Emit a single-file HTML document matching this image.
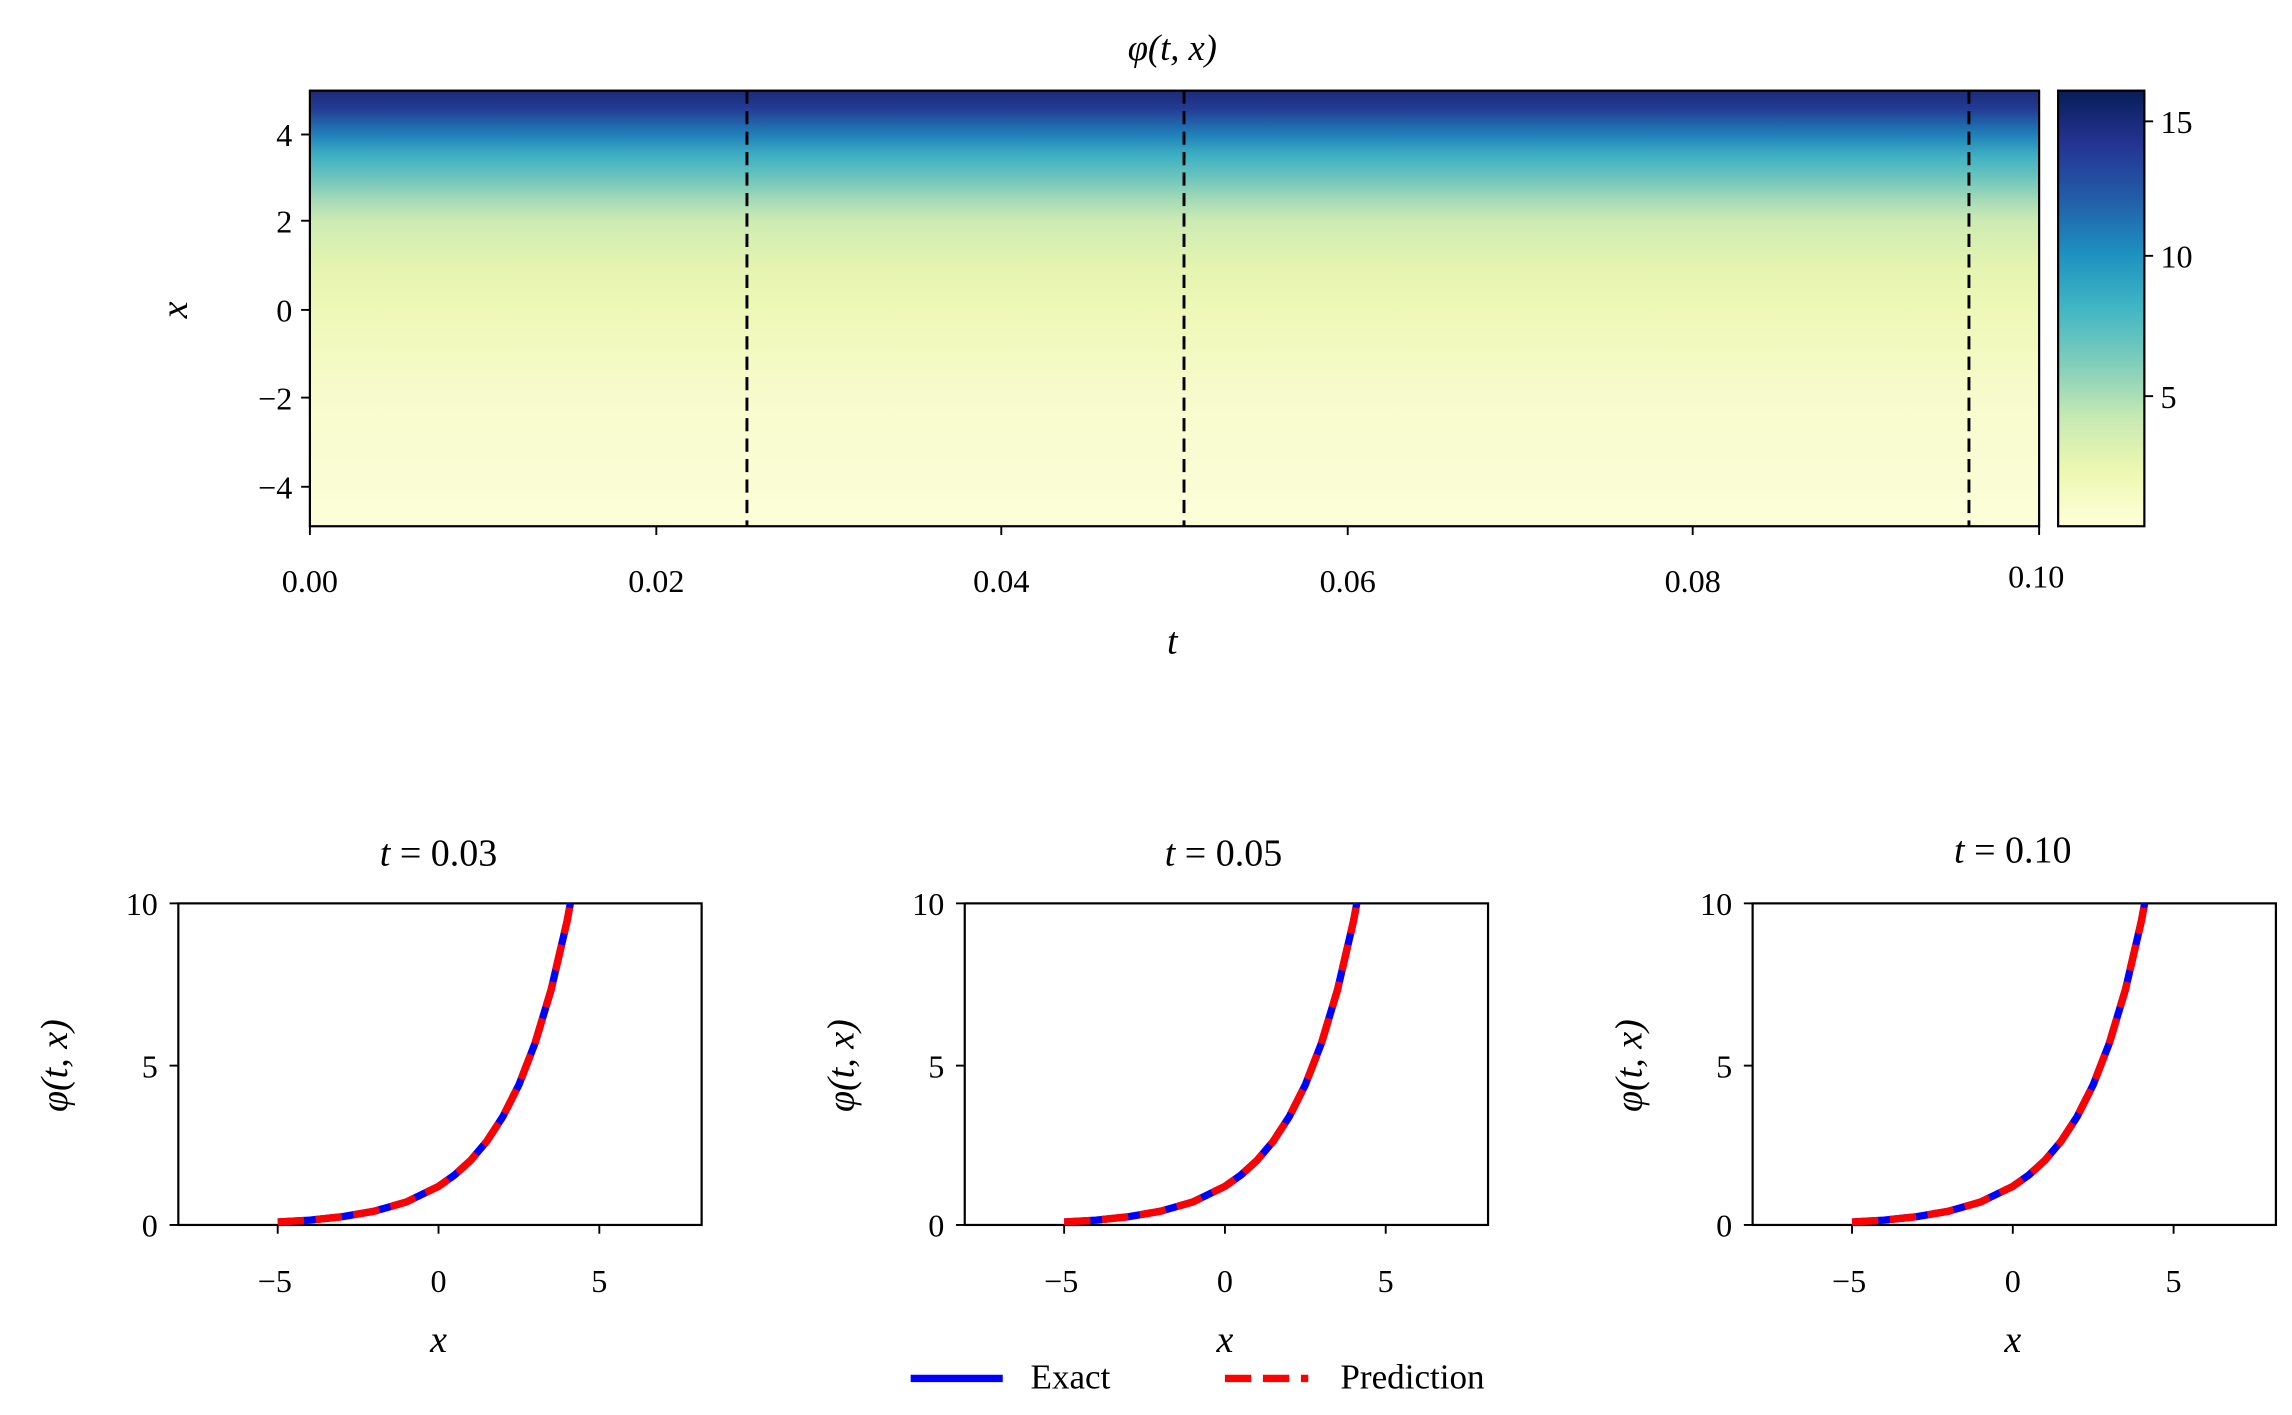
<!DOCTYPE html>
<html><head><meta charset="utf-8"><style>html,body{margin:0;padding:0;background:#fff}svg{display:block}text{font-family:"Liberation Serif",serif;fill:#000}</style></head><body>
<svg width="2292" height="1415" viewBox="0 0 1568 968" xmlns="http://www.w3.org/2000/svg">
<defs>
<linearGradient id="hm" x1="0" y1="0" x2="0" y2="1">
<stop offset="0" stop-color="#1b2a78"/>
<stop offset="0.04" stop-color="#243a93"/>
<stop offset="0.1" stop-color="#1f7fb8"/>
<stop offset="0.15" stop-color="#3fb0c3"/>
<stop offset="0.2" stop-color="#6cc5bc"/>
<stop offset="0.25" stop-color="#a4dab7"/>
<stop offset="0.3" stop-color="#cdebb3"/>
<stop offset="0.4" stop-color="#e4f4b0"/>
<stop offset="0.5" stop-color="#eef8b6"/>
<stop offset="0.7" stop-color="#f7fbcc"/>
<stop offset="1" stop-color="#fcfed8"/>
</linearGradient>
<linearGradient id="cb" x1="0" y1="0" x2="0" y2="1">
<stop offset="0" stop-color="#081d58"/>
<stop offset="0.125" stop-color="#253494"/>
<stop offset="0.25" stop-color="#225ea8"/>
<stop offset="0.375" stop-color="#1d91c0"/>
<stop offset="0.5" stop-color="#41b6c4"/>
<stop offset="0.625" stop-color="#7fcdbb"/>
<stop offset="0.75" stop-color="#c7e9b4"/>
<stop offset="0.875" stop-color="#edf8b1"/>
<stop offset="1" stop-color="#ffffd9"/>
</linearGradient>
</defs>
<text x="802" y="41" font-size="25" text-anchor="middle" font-style="italic">φ(t, x)</text>
<rect x="212" y="62" width="1183" height="298" fill="url(#hm)" stroke="#000" stroke-width="1.5"/>
<g stroke="#000" stroke-width="2" stroke-dasharray="9,5">
<line x1="511" y1="62" x2="511" y2="360"/><line x1="810" y1="62" x2="810" y2="360"/><line x1="1347" y1="62" x2="1347" y2="360"/>
</g>
<g stroke="#000" stroke-width="1.3">
<line x1="206" y1="92" x2="212" y2="92"/><line x1="206" y1="151" x2="212" y2="151"/><line x1="206" y1="212" x2="212" y2="212"/><line x1="206" y1="272" x2="212" y2="272"/><line x1="206" y1="333" x2="212" y2="333"/>
<line x1="212" y1="360" x2="212" y2="366"/><line x1="449" y1="360" x2="449" y2="366"/><line x1="685" y1="360" x2="685" y2="366"/><line x1="922" y1="360" x2="922" y2="366"/><line x1="1158" y1="360" x2="1158" y2="366"/><line x1="1395" y1="360" x2="1395" y2="366"/>
</g>
<g font-size="22" text-anchor="end">
<text x="200" y="100">4</text><text x="200" y="159">2</text><text x="200" y="220">0</text><text x="200" y="280">−2</text><text x="200" y="341">−4</text>
</g>
<g font-size="22" text-anchor="middle">
<text x="212" y="405">0.00</text><text x="449" y="405">0.02</text><text x="685" y="405">0.04</text><text x="922" y="405">0.06</text><text x="1158" y="405">0.08</text><text x="1393" y="402">0.10</text>
</g>
<text x="802" y="447" font-size="26" font-style="italic" text-anchor="middle">t</text>
<text transform="translate(128,212) rotate(-90)" font-size="26" font-style="italic" text-anchor="middle">x</text>
<rect x="1408" y="62" width="59" height="298" fill="url(#cb)" stroke="#000" stroke-width="1.5"/>
<g stroke="#000" stroke-width="1.3"><line x1="1467" y1="83" x2="1473" y2="83"/><line x1="1467" y1="175" x2="1473" y2="175"/><line x1="1467" y1="271" x2="1473" y2="271"/></g>
<g font-size="22"><text x="1478" y="91">15</text><text x="1478" y="183">10</text><text x="1478" y="279">5</text></g>

<g id="p1">
<rect x="122" y="618" width="358" height="220" fill="none" stroke="#000" stroke-width="1.5"/>
<g stroke="#000" stroke-width="1.3"><line x1="116" y1="618" x2="122" y2="618"/><line x1="116" y1="729" x2="122" y2="729"/><line x1="116" y1="838" x2="122" y2="838"/><line x1="190" y1="838" x2="190" y2="844"/><line x1="300" y1="838" x2="300" y2="844"/><line x1="410" y1="838" x2="410" y2="844"/></g>
<g font-size="22" text-anchor="end"><text x="108" y="626">10</text><text x="108" y="737">5</text><text x="108" y="846">0</text></g>
<g font-size="22" text-anchor="middle"><text x="188" y="884">−5</text><text x="300" y="884">0</text><text x="410" y="884">5</text></g>
<text x="300" y="925" font-size="26" font-style="italic" text-anchor="middle">x</text>
<text transform="translate(46,729) rotate(-90)" font-size="26" font-style="italic" text-anchor="middle">φ(t, x)</text>
<path d="M190,836 L212,834.7 L234,832.4 L256,828.6 L278,822.3 L300,811.6 L311,803.8 L322,793.8 L333,780.8 L344,763.9 L355,742.1 L366,713.7 L377,677.2 L388,629.9 L390.2,618" fill="none" stroke="#0000ff" stroke-width="5"/>
<path d="M190,836 L212,834.7 L234,832.4 L256,828.6 L278,822.3 L300,811.6 L311,803.8 L322,793.8 L333,780.8 L344,763.9 L355,742.1 L366,713.7 L377,677.2 L388,629.9 L390.2,618" fill="none" stroke="#ff0000" stroke-width="5" stroke-dasharray="18,8"/>
</g>
<use href="#p1" transform="translate(538,0)"/>
<use href="#p1" transform="translate(1077,0)"/>
<text x="300" y="592" font-size="26" text-anchor="middle"><tspan font-style="italic">t</tspan> = 0.03</text>
<text x="837" y="592" font-size="26" text-anchor="middle"><tspan font-style="italic">t</tspan> = 0.05</text>
<text x="1377" y="590" font-size="26" text-anchor="middle"><tspan font-style="italic">t</tspan> = 0.10</text>
<line x1="623" y1="943" x2="686" y2="943" stroke="#0000ff" stroke-width="5"/>
<text x="705" y="950" font-size="24">Exact</text>
<line x1="838" y1="943" x2="895" y2="943" stroke="#ff0000" stroke-width="5" stroke-dasharray="18,8"/>
<text x="917" y="950" font-size="24">Prediction</text>
</svg>
</body></html>
